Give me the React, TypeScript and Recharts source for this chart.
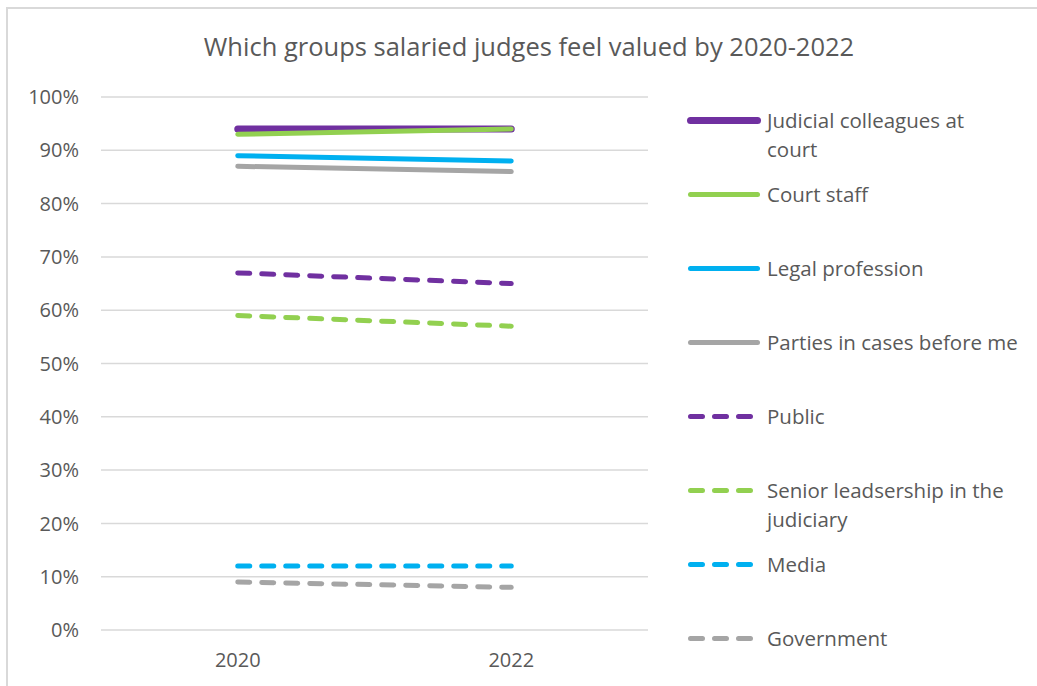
import React from 'react';
import { LineChart, Line, XAxis, YAxis, CartesianGrid, Legend } from 'recharts';

const years = ['2020', '2022'];
const judicialColleagues = [0.94, 0.94];
const courtStaff = [0.93, 0.94];
const legalProfession = [0.89, 0.88];
const parties = [0.87, 0.86];
const publicVals = [0.67, 0.65];
const seniorLeadership = [0.59, 0.57];
const media = [0.12, 0.12];
const government = [0.09, 0.08];

const yTicks = [0, 0.1, 0.2, 0.3, 0.4, 0.5, 0.6, 0.7, 0.8, 0.9, 1];

const seriesNames = [
  'Judicial colleagues at court',
  'Court staff',
  'Legal profession',
  'Parties in cases before me',
  'Public',
  'Senior leadsership in the judiciary',
  'Media',
  'Government',
];
// legend labels as wrapped in the original legend
const legendLabels = [
  'Judicial colleagues at\ncourt',
  'Court staff',
  'Legal profession',
  'Parties in cases before me',
  'Public',
  'Senior leadsership in the\njudiciary',
  'Media',
  'Government',
];
const seriesValues = [
  judicialColleagues,
  courtStaff,
  legalProfession,
  parties,
  publicVals,
  seniorLeadership,
  media,
  government,
];
const seriesColors = ['#7030A0', '#92D050', '#00B0F0', '#A5A5A5', '#7030A0', '#92D050', '#00B0F0', '#A5A5A5'];
const seriesDashed = [false, false, false, false, true, true, true, true];
const seriesWidths = [7, 5, 5, 5, 5, 5, 5, 5];

const data = years.map((y, i) => {
  const row: any = { year: y };
  seriesNames.forEach((n, k) => {
    row['s' + k] = seriesValues[k][i];
  });
  return row;
});

const FONT = '"Open Sans", Lato, sans-serif';
const TEXT = '#595959';

const renderLegend = (props: any) => {
  const payload = [...(props.payload || [])].sort(
    (a: any, b: any) => Number(String(a.dataKey).slice(1)) - Number(String(b.dataKey).slice(1))
  );
  return (
    <div style={{ fontFamily: FONT, color: TEXT, fontSize: 20.5, textAlign: 'left' }}>
      {payload.map((entry: any, i: number) => {
        const k = Number(String(entry.dataKey).slice(1));
        const dashed = seriesDashed[k];
        return (
          <div key={i} style={{ height: 74, display: 'flex', alignItems: 'flex-start' }}>
            <svg width={81} height={29} style={{ flex: 'none' }}>
              <line
                x1={4.5}
                x2={dashed ? 64.5 : 71.5}
                y1={14.5}
                y2={14.5}
                stroke={seriesColors[k]}
                strokeWidth={seriesWidths[k]}
                strokeLinecap="round"
                strokeDasharray={dashed ? '12 12' : undefined}
              />
            </svg>
            <div style={{ lineHeight: '29px', whiteSpace: 'pre' }}>{legendLabels[k]}</div>
          </div>
        );
      })}
    </div>
  );
};

export default function App() {
  return (
    <div style={{ position: 'absolute', left: 0, top: 0, width: 1037, height: 686, background: '#fff', overflow: 'hidden' }}>
      <div
        style={{
          position: 'absolute',
          left: 6,
          top: 7,
          width: 1100,
          height: 700,
          border: '2px solid #d9d9d9',
          boxSizing: 'border-box',
        }}
      />
      <div
        style={{
          position: 'absolute',
          left: 0,
          top: 29,
          width: 1058,
          textAlign: 'center',
          fontFamily: FONT,
          fontSize: 25.5,
          color: TEXT,
        }}
      >
        Which groups salaried judges feel valued by 2020-2022
      </div>
      <div style={{ position: 'absolute', left: 0, top: 0 }}>
        <LineChart
          width={1037}
          height={686}
          data={data}
          margin={{ top: 97, right: 389, left: 11, bottom: 16 }}
        >
          <CartesianGrid vertical={false} stroke="#d9d9d9" strokeWidth={1.5} />
          <XAxis
            dataKey="year"
            scale="band"
            axisLine={false}
            tickLine={false}
            tickSize={0}
            tickMargin={23}
            height={40}
            tick={{ fill: TEXT, fontSize: 20, fontFamily: FONT }}
          />
          <YAxis
            domain={[0, 1]}
            ticks={yTicks}
            width={90}
            axisLine={false}
            tickLine={false}
            tickSize={0}
            tickMargin={22}
            tickFormatter={(v: number) => `${Math.round(v * 100)}%`}
            tick={{ fill: TEXT, fontSize: 20, fontFamily: FONT }}
          />
          {seriesNames.map((n, k) => (
            <Line
              key={n}
              dataKey={'s' + k}
              name={n}
              stroke={seriesColors[k]}
              strokeWidth={seriesWidths[k]}
              strokeLinecap="round"
              strokeDasharray={seriesDashed[k] ? '12 12' : undefined}
              dot={false}
              activeDot={false}
              isAnimationActive={false}
            />
          ))}
          <Legend
            content={renderLegend}
            layout="vertical"
            align="center"
            verticalAlign="middle"
            wrapperStyle={{ position: 'absolute', left: 686, top: 106, width: 351 }}
          />
        </LineChart>
      </div>
    </div>
  );
}
